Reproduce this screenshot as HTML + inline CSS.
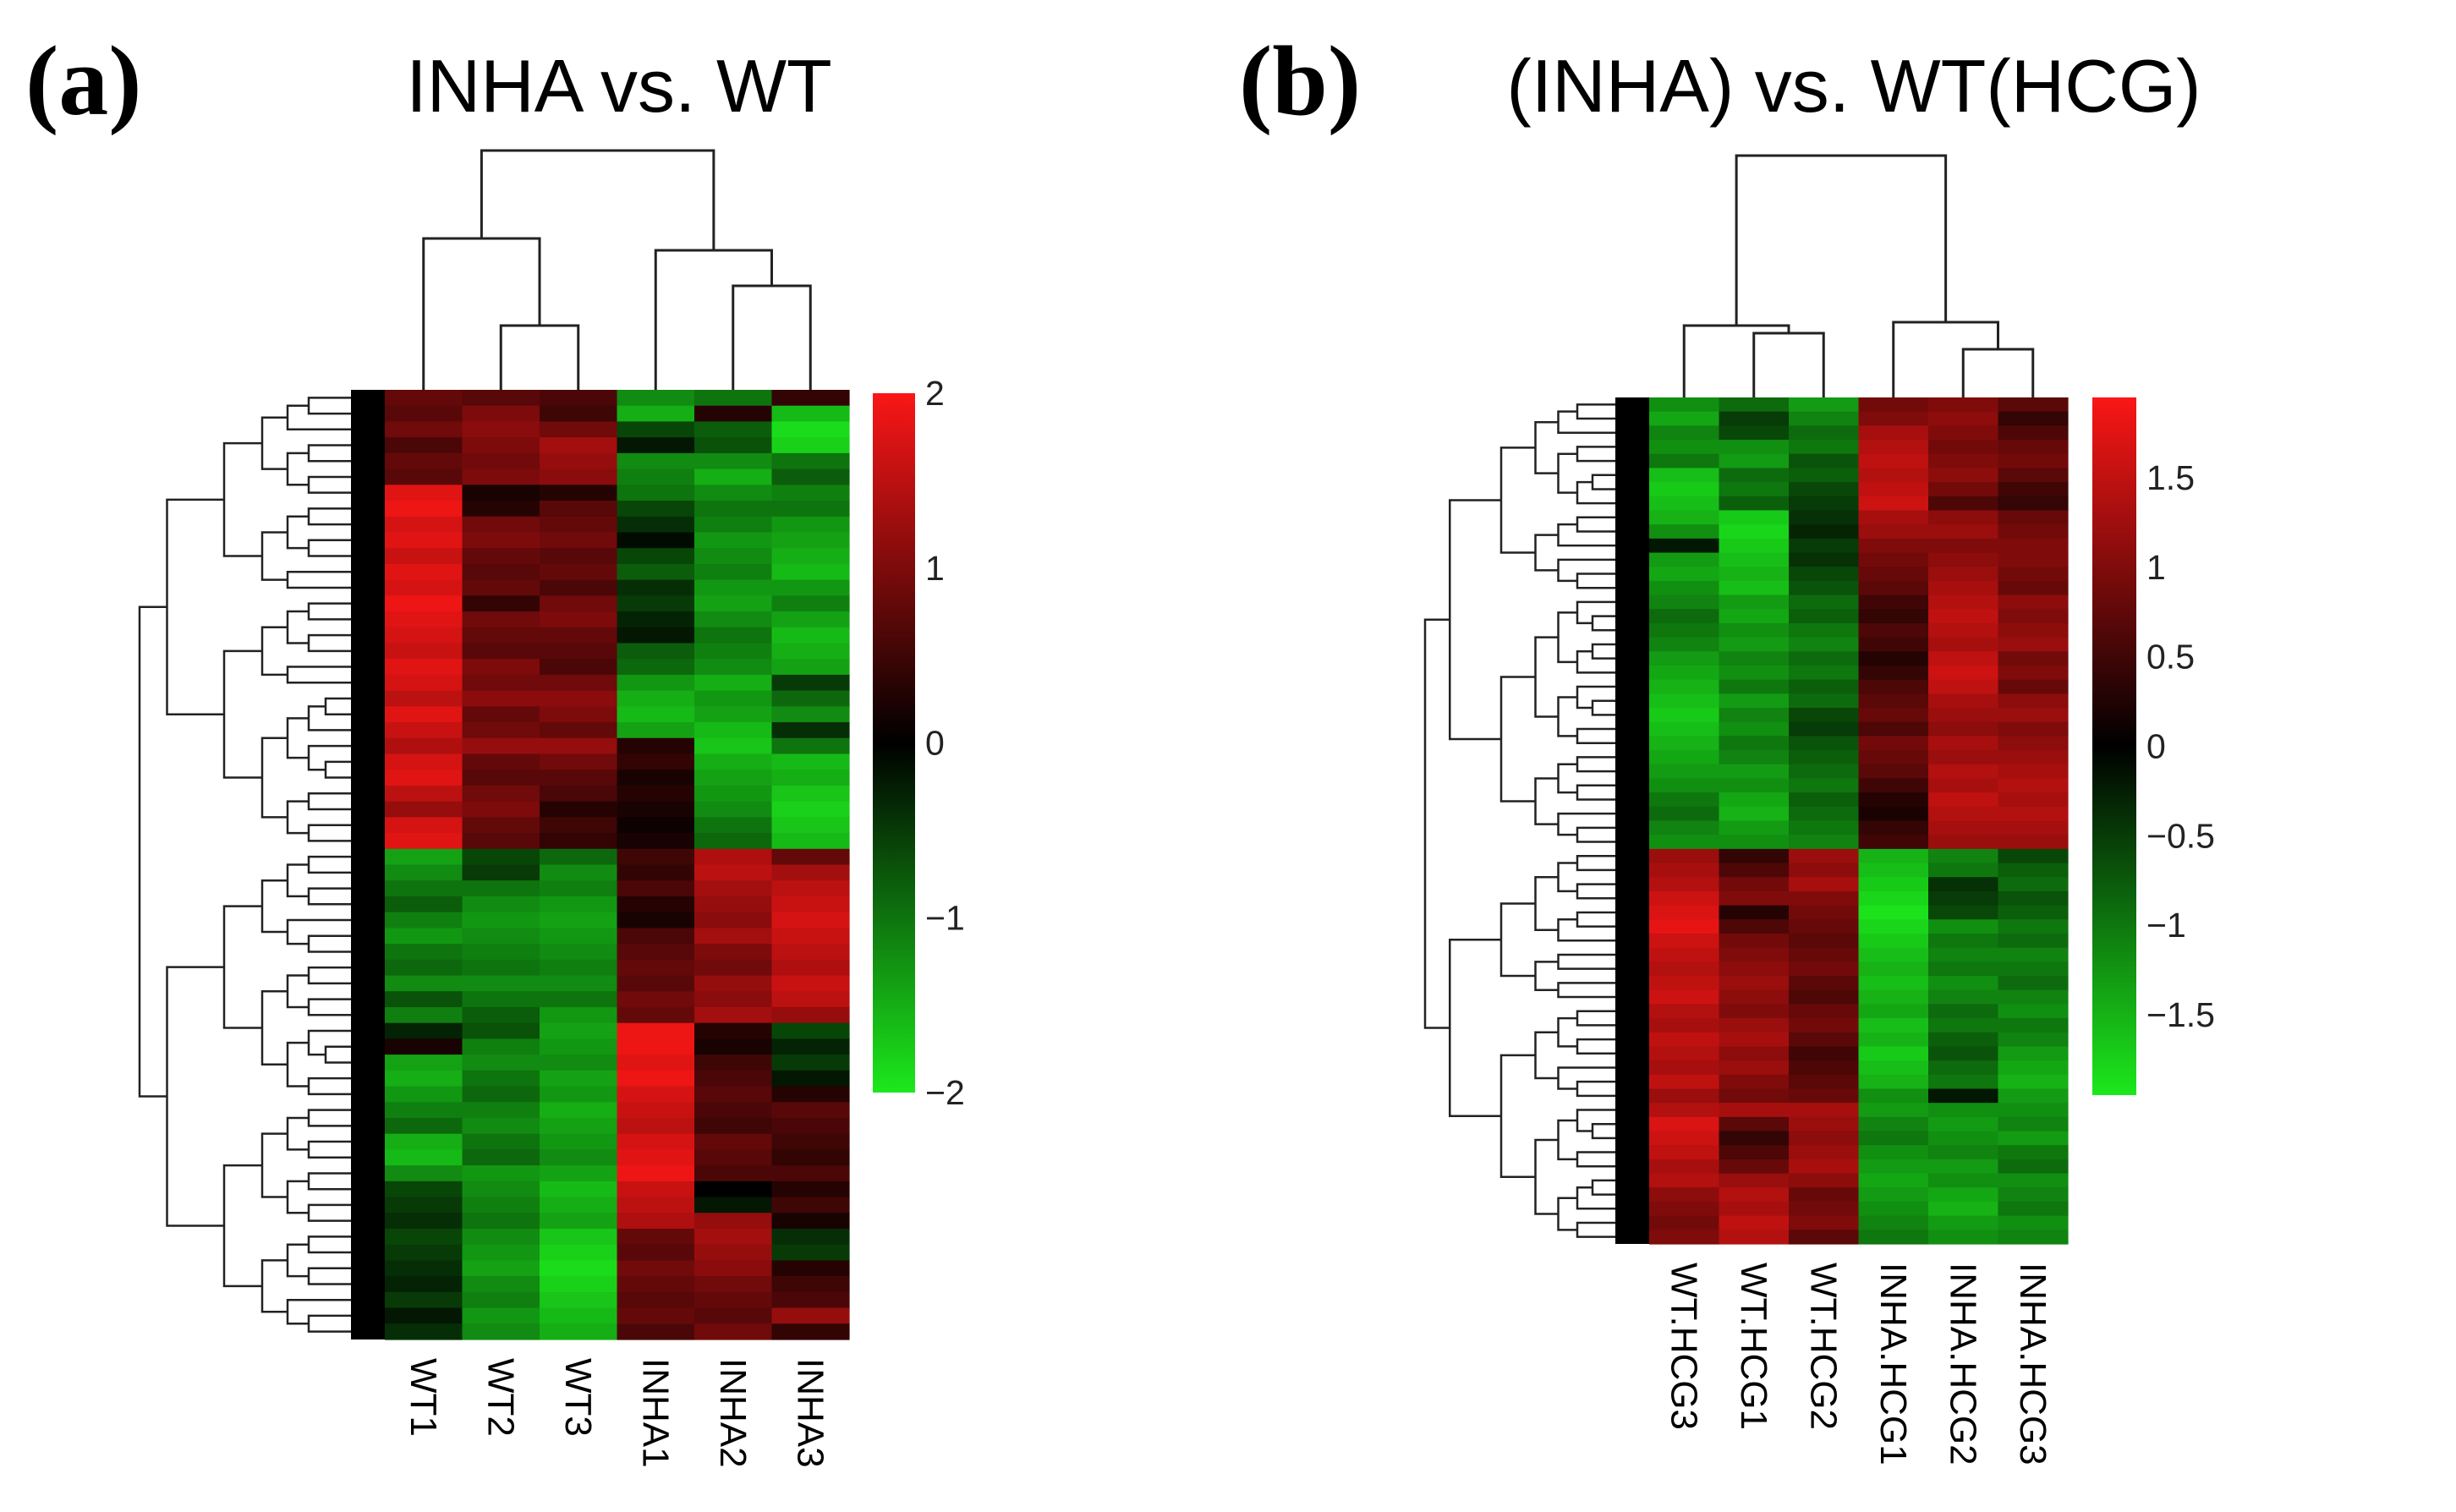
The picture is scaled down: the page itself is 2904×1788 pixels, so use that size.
<!DOCTYPE html>
<html><head><meta charset="utf-8"><style>
html,body{margin:0;padding:0;background:#fff;}
svg{display:block;}
text{font-family:"Liberation Sans",sans-serif;}
</style></head><body>
<svg id="fig" width="2904" height="1788" viewBox="0 0 2904 1788" xmlns="http://www.w3.org/2000/svg">
<rect width="2904" height="1788" fill="#fff"/>
<text x="30" y="135" style="font-family:'Liberation Serif',serif;font-weight:bold;font-size:118px">(a)</text>
<text x="732" y="132" text-anchor="middle" style="font-size:88px">INHA vs. WT</text>
<text x="1465" y="135" style="font-family:'Liberation Serif',serif;font-weight:bold;font-size:118px">(b)</text>
<text x="2192" y="132" text-anchor="middle" style="font-size:88px">(INHA) vs. WT(HCG)</text>
<g id="pa"></g>
<g id="pb"></g>
</svg>
<script>
// Panel A data (columns; first 29 rows = upper cluster)
const catsA = ["WT1","WT2","WT3","INHA1","INHA2","INHA3"];
const aWT1 = [0.8,0.7,0.9,0.6,0.8,0.7,1.8,1.9,1.7,1.8,1.6,1.8,1.7,1.9,1.8,1.7,1.6,1.8,1.7,1.5,1.8,1.6,1.4,1.7,1.8,1.5,1.2,1.7,1.8,
 -1.4,-1.2,-1.0,-0.8,-1.1,-1.3,-1.0,-0.9,-1.2,-0.7,-1.1,-0.3,0.2,-1.4,-1.5,-1.3,-1.1,-0.9,-1.5,-1.6,-1.2,-0.6,-0.5,-0.4,-0.6,-0.5,-0.4,-0.3,-0.5,-0.2,-0.4];
const aWT2 = [0.7,1.0,1.1,1.0,0.9,1.0,0.2,0.3,0.9,1.0,0.8,0.7,0.8,0.4,0.9,0.8,0.7,1.0,0.9,1.1,0.8,0.9,1.2,0.8,0.7,0.9,1.0,0.8,0.7,
 -0.6,-0.5,-1.0,-1.2,-1.3,-1.2,-1.1,-1.0,-1.2,-1.0,-0.8,-0.7,-1.1,-1.2,-1.0,-0.9,-1.1,-1.2,-1.0,-0.9,-1.3,-1.2,-1.1,-1.0,-1.2,-1.3,-1.4,-1.2,-1.1,-1.3,-1.2];
const aWT3 = [0.6,0.5,0.9,1.3,1.2,1.1,0.3,0.7,0.8,0.9,0.7,0.8,0.6,0.9,1.0,0.8,0.7,0.6,0.9,1.1,1.0,0.8,1.2,0.9,0.7,0.6,0.3,0.5,0.4,
 -0.9,-1.2,-1.1,-1.3,-1.4,-1.3,-1.2,-1.1,-1.2,-1.0,-1.3,-1.4,-1.3,-1.2,-1.4,-1.3,-1.5,-1.4,-1.3,-1.2,-1.4,-1.6,-1.5,-1.4,-1.7,-1.8,-1.9,-1.8,-1.7,-1.6,-1.5];
const aINHA1 = [-1.2,-1.5,-0.6,-0.2,-1.2,-1.1,-1.0,-0.6,-0.4,-0.1,-0.6,-0.8,-0.4,-0.5,-0.3,-0.2,-0.8,-0.9,-1.3,-1.5,-1.6,-1.4,0.3,0.4,0.2,0.3,0.2,0.1,0.2,
 0.5,0.4,0.6,0.3,0.2,0.6,0.7,0.8,0.7,0.9,0.8,1.9,1.9,1.8,1.9,1.7,1.6,1.5,1.7,1.8,1.9,1.6,1.5,1.4,0.8,0.7,0.9,0.8,0.7,0.8,0.6];
const aINHA2 = [-1.0,0.3,-0.8,-0.7,-1.2,-1.5,-1.2,-1.0,-1.1,-1.3,-1.2,-1.1,-1.3,-1.4,-1.2,-1.0,-1.1,-1.2,-1.5,-1.3,-1.4,-1.6,-1.7,-1.5,-1.4,-1.3,-1.2,-1.0,-0.9,
 1.4,1.5,1.3,1.2,1.1,1.3,1.0,0.9,1.2,1.1,1.3,0.3,0.2,0.5,0.6,0.7,0.6,0.5,0.8,0.7,0.6,0.0,-0.2,1.2,1.3,1.2,1.1,0.9,0.8,0.7,0.9];
const aINHA3 = [0.4,-1.6,-1.9,-1.8,-1.0,-0.8,-1.1,-1.0,-1.3,-1.4,-1.5,-1.6,-1.3,-1.1,-1.4,-1.6,-1.5,-1.4,-0.5,-0.9,-1.2,-0.4,-1.0,-1.6,-1.5,-1.7,-1.8,-1.7,-1.6,
 0.8,1.3,1.5,1.6,1.7,1.6,1.5,1.4,1.6,1.5,1.2,-0.6,-0.3,-0.5,-0.2,0.3,0.7,0.6,0.5,0.4,0.6,0.3,0.5,0.2,-0.4,-0.5,0.3,0.5,0.6,1.2,0.4];
const ticksA = [2,1,0,-1,-2];
const tickLabelsA = ["2","1","0","\u22121","\u22122"];

// Panel B data (first 32 rows = upper cluster)
const catsB = ["WT.HCG3","WT.HCG1","WT.HCG2","INHA.HCG1","INHA.HCG2","INHA.HCG3"];
const bWT3 = [-1.2,-1.4,-1.1,-1.2,-1.0,-1.6,-1.7,-1.6,-1.5,-1.2,-0.2,-1.3,-1.4,-1.2,-1.1,-0.9,-1.0,-1.1,-1.3,-1.4,-1.5,-1.6,-1.7,-1.6,-1.5,-1.4,-1.3,-1.2,-1.0,-0.9,-1.1,-1.2,
 1.2,1.3,1.4,1.6,1.7,1.8,1.6,1.5,1.4,1.5,1.6,1.4,1.3,1.5,1.4,1.3,1.5,1.2,1.4,1.7,1.6,1.5,1.3,1.4,1.1,1.0,0.9,1.0];
const bWT1 = [-0.9,-0.5,-0.6,-1.2,-1.3,-0.9,-1.0,-0.8,-1.7,-1.8,-1.7,-1.6,-1.5,-1.6,-1.3,-1.4,-1.2,-1.3,-1.1,-1.2,-1.0,-1.3,-1.1,-1.2,-1.0,-1.1,-1.3,-1.2,-1.4,-1.5,-1.3,-1.2,
 0.4,0.6,0.9,1.0,0.3,0.6,0.9,1.0,1.1,1.2,1.1,1.0,1.2,1.3,1.1,1.2,1.0,0.9,1.3,0.7,0.4,0.6,0.8,1.2,1.4,1.3,1.5,1.4];
const bWT2 = [-1.3,-1.1,-0.9,-1.0,-0.7,-0.8,-0.6,-0.5,-0.4,-0.3,-0.5,-0.4,-0.6,-0.7,-0.9,-0.8,-1.0,-1.1,-0.9,-1.0,-0.8,-0.9,-0.6,-0.5,-0.7,-0.8,-0.9,-1.0,-0.8,-0.9,-1.0,-1.1,
 1.2,1.1,1.3,1.0,0.9,0.8,0.7,0.8,0.9,0.7,0.6,0.8,0.9,0.7,0.5,0.6,0.7,0.8,1.3,1.2,1.1,1.2,1.3,1.1,0.8,0.9,1.0,0.7];
const bINHA1 = [0.9,1.0,1.3,1.4,1.5,1.4,1.5,1.6,1.3,1.2,1.0,0.9,0.8,0.7,0.5,0.4,0.6,0.5,0.3,0.4,0.6,0.7,0.8,0.6,0.9,0.8,0.7,0.5,0.3,0.2,0.4,0.5,
 -1.5,-1.6,-1.7,-1.8,-1.9,-1.8,-1.7,-1.6,-1.5,-1.6,-1.5,-1.4,-1.6,-1.5,-1.7,-1.6,-1.5,-1.2,-1.3,-1.1,-1.0,-1.2,-1.3,-1.4,-1.3,-1.2,-1.1,-1.0];
const bINHA2 = [1.0,1.1,1.0,0.9,1.0,1.1,0.9,0.6,1.1,1.2,1.0,1.1,1.2,1.3,1.4,1.5,1.4,1.3,1.5,1.6,1.5,1.3,1.2,1.1,1.3,1.2,1.4,1.3,1.5,1.4,1.3,1.2,
 -1.1,-1.0,-0.4,-0.5,-0.6,-1.2,-1.0,-1.1,-1.0,-1.2,-1.1,-0.9,-1.0,-0.8,-0.7,-0.9,-1.0,-0.2,-1.2,-1.3,-1.2,-1.1,-1.3,-1.2,-1.4,-1.5,-1.3,-1.2];
const bINHA3 = [0.7,0.4,0.6,0.8,0.9,0.7,0.5,0.4,0.8,0.9,1.0,1.0,0.9,0.8,1.1,1.0,1.1,1.2,0.9,1.0,0.8,1.1,1.2,1.0,1.1,1.2,1.3,1.4,1.3,1.4,1.3,1.2,
 -0.6,-0.8,-0.9,-0.7,-0.8,-1.0,-0.9,-1.1,-1.0,-0.9,-1.1,-1.2,-1.0,-1.1,-1.3,-1.4,-1.5,-1.3,-1.2,-1.1,-1.3,-1.0,-0.9,-1.2,-1.1,-1.0,-1.2,-1.1];
const ticksB = [1.5,1,0.5,0,-0.5,-1,-1.5];
const tickLabelsB = ["1.5","1","0.5","0","\u22120.5","\u22121","\u22121.5"];

const NS="http://www.w3.org/2000/svg";
function mk(p,t,a){const e=document.createElementNS(NS,t);for(const k in a)e.setAttribute(k,a[k]);p.appendChild(e);return e;}
function color(v,max){let t=Math.max(-1,Math.min(1,v/max));
 if(t>=0)return `rgb(${Math.round(250*t)},${Math.round(22*t)},${Math.round(22*t)})`;
 t=-t;return `rgb(${Math.round(28*t)},${Math.round(232*t)},${Math.round(28*t)})`;}

function panel(g,cfg){
 const {x0,x1,y0,y1,cols,cats,max,split,cb,ticks,tickLabels,colTree,rootX}=cfg;
 const cw=(x1-x0)/cols.length;
 const xScale=i=>x0+cw*i;
 cols.forEach((arr,ci)=>{
  const rh=(y1-y0)/arr.length;
  arr.forEach((v,ri)=>{
   const r=mk(g,"rect",{x:xScale(ci),y:y0+rh*ri,width:cw+0.6,height:rh+0.6,fill:color(v,max)});
   
   
  });
 });
 cats.forEach((c,i)=>{
  const cx=xScale(i)+cw/2;
  const t=mk(g,"text",{x:0,y:0,transform:`translate(${cx-15},${y1+22}) rotate(90)`,"font-size":44});
  t.textContent=c;
  
  
 });
 const cd=mk(g,"g",{stroke:"#222","stroke-width":3,fill:"none"});
 
 
 function drawCol(node){
  if(typeof node==="number")return {x:xScale(node)+cw/2,y:y0};
  const a=drawCol(node.l),b=drawCol(node.r);
  mk(cd,"path",{d:`M${a.x},${a.y}V${node.h}H${b.x}V${b.y}`});
  return {x:(a.x+b.x)/2,y:node.h};
 }
 drawCol(colTree);
 const n=cols[0].length, rh=(y1-y0)/n;
 const band=40;
 const rd=mk(g,"g",{stroke:"#222","stroke-width":2.5,fill:"none"});
 
 
 const right=x0-band, span=right-rootX;
 const hs=[1.0,0.87,0.6,0.42,0.3,0.2,0.12,0.06,0.03];
 const fr=[0.5,0.45,0.55,0.4,0.6,0.5];
 function drawRow(lo,hi,d,first){
  if(hi-lo<=1)return {x:right+band*0.5,y:y0+rh*(lo+0.5)};
  const mid=first?split:lo+Math.max(1,Math.min(hi-lo-1,Math.round((hi-lo)*fr[(d+lo)%fr.length])));
  const a=drawRow(lo,mid,d+1,false),b=drawRow(mid,hi,d+1,false);
  const x=right-span*hs[Math.min(d,hs.length-1)];
  mk(rd,"path",{d:`M${a.x},${a.y}H${x}V${b.y}H${b.x}`});
  return {x:x,y:(a.y+b.y)/2};
 }
 drawRow(0,n,0,true);
 const br=mk(g,"rect",{x:x0-band,y:y0,width:band,height:y1-y0,fill:"#000"});
 
 
 const grad=mk(g,"defs",{});
 const lg=mk(grad,"linearGradient",{id:cfg.id+"grad",x1:0,y1:0,x2:0,y2:1});
 [[0,color(max,max)],[0.5,"#000"],[1,color(-max,max)]].forEach(s=>mk(lg,"stop",{offset:s[0],"stop-color":s[1]}));
 const cbr=mk(g,"rect",{x:cb.x,y:cb.y0,width:cb.w,height:cb.y1-cb.y0,fill:`url(#${cfg.id}grad)`});
 
 
 const ys=v=>cb.y0+(max-v)/(2*max)*(cb.y1-cb.y0);
 ticks.forEach((v,i)=>{
  const t=mk(g,"text",{x:cb.x+cb.w+12,y:ys(v)+14,"font-size":41,fill:"#222"});
  t.textContent=tickLabels[i];
  
  
 });
}

panel(document.getElementById("pa"),{id:"a",x0:455,x1:1004,y0:461,y1:1584,
 cols:[aWT1,aWT2,aWT3,aINHA1,aINHA2,aINHA3],cats:catsA,max:2,split:29,rootX:165,
 cb:{x:1032,w:50,y0:465,y1:1292},ticks:ticksA,tickLabels:tickLabelsA,
 colTree:{h:178,l:{h:282,l:0,r:{h:385,l:1,r:2}},r:{h:296,l:3,r:{h:338,l:4,r:5}}}});
panel(document.getElementById("pb"),{id:"b",x0:1950,x1:2445,y0:470,y1:1471,
 cols:[bWT3,bWT1,bWT2,bINHA1,bINHA2,bINHA3],cats:catsB,max:1.95,split:32,rootX:1685,
 cb:{x:2474,w:52,y0:470,y1:1295},ticks:ticksB,tickLabels:tickLabelsB,
 colTree:{h:184,l:{h:385,l:0,r:{h:394,l:1,r:2}},r:{h:381,l:3,r:{h:413,l:4,r:5}}}});
</script>
</body></html>
